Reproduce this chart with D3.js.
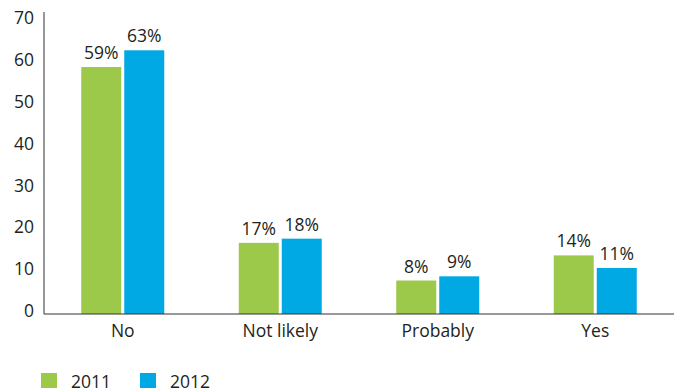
<!DOCTYPE html>
<html>
<head>
<meta charset="utf-8">
<script src="https://cdn.jsdelivr.net/npm/d3@7"></script>
<style>
  html, body { margin: 0; padding: 0; background: #ffffff; }
  svg { display: block; font-family: "Open Sans", "Noto Sans", sans-serif; }
</style>
</head>
<body>
<svg id="chart" width="682" height="392"></svg>
<script>
// Survey answers by year
const categories = ["No", "Not likely", "Probably", "Yes"];
const years = ["2011", "2012"];
const values2011 = [59, 17, 8, 14];
const values2012 = [63, 18, 9, 11];
const yTicks = [0, 10, 20, 30, 40, 50, 60, 70];
const colors = ["#9cc94a", "#00a9e3"];

const rows = categories.map((c, i) => ({
  category: c,
  values: [
    { year: years[0], value: values2011[i] },
    { year: years[1], value: values2012[i] }
  ]
}));

const svg = d3.select("#chart");
const textColor = "#231f20";
const fontSize = 17.5;
const plotLeft = 44, plotRight = 674, plotTop = 12, baseline = 314;

const x = d3.scaleBand()
  .domain(categories)
  .range([plotLeft, plotRight])
  .paddingInner(0.473)
  .paddingOuter(0.2365);

const xInner = d3.scaleBand()
  .domain(years)
  .range([0, x.bandwidth()])
  .paddingInner(0.07);

const y = d3.scaleLinear()
  .domain([0, 70])
  .range([baseline, 21]);

const color = d3.scaleOrdinal().domain(years).range(colors);

// Y axis: vertical rule plus tick labels
svg.append("line")
  .attr("x1", plotLeft).attr("x2", plotLeft)
  .attr("y1", plotTop).attr("y2", baseline)
  .attr("stroke", "#333").attr("stroke-width", 1);

svg.append("g")
  .selectAll("text")
  .data(yTicks)
  .join("text")
  .attr("x", 34)
  .attr("y", d => y(d) - 3)
  .attr("dy", "0.35em")
  .attr("text-anchor", "end")
  .attr("font-size", fontSize)
  .attr("fill", textColor)
  .text(d => d);

// Bars
const groups = svg.append("g")
  .selectAll("g")
  .data(rows)
  .join("g")
  .attr("transform", d => `translate(${x(d.category)},0)`);

groups.selectAll("rect")
  .data(d => d.values)
  .join("rect")
  .attr("x", d => xInner(d.year))
  .attr("width", xInner.bandwidth())
  .attr("y", d => y(d.value))
  .attr("height", d => y(0) - y(d.value))
  .attr("fill", d => color(d.year));

groups.selectAll("text.value")
  .data(d => d.values)
  .join("text")
  .attr("class", "value")
  .attr("x", d => xInner(d.year) + xInner.bandwidth() / 2)
  .attr("y", d => y(d.value) - 8)
  .attr("text-anchor", "middle")
  .attr("font-size", fontSize)
  .attr("fill", textColor)
  .text(d => d.value + "%");

// Baseline
svg.append("line")
  .attr("x1", plotLeft).attr("x2", plotRight)
  .attr("y1", baseline).attr("y2", baseline)
  .attr("stroke", "#333").attr("stroke-width", 1);

// Category labels
svg.append("g")
  .selectAll("text")
  .data(categories)
  .join("text")
  .attr("x", d => x(d) + x.bandwidth() / 2)
  .attr("y", 337)
  .attr("text-anchor", "middle")
  .attr("font-size", fontSize)
  .attr("fill", textColor)
  .text(d => d);

// Legend
const legend = svg.append("g")
  .selectAll("g")
  .data(years)
  .join("g")
  .attr("transform", (d, i) => `translate(${41 + i * 99},373)`);

legend.append("rect")
  .attr("width", 16).attr("height", 15)
  .attr("fill", d => color(d));

legend.append("text")
  .attr("x", 30)
  .attr("y", 14.5)
  .attr("font-size", fontSize)
  .attr("fill", textColor)
  .text(d => d);
</script>
</body>
</html>
